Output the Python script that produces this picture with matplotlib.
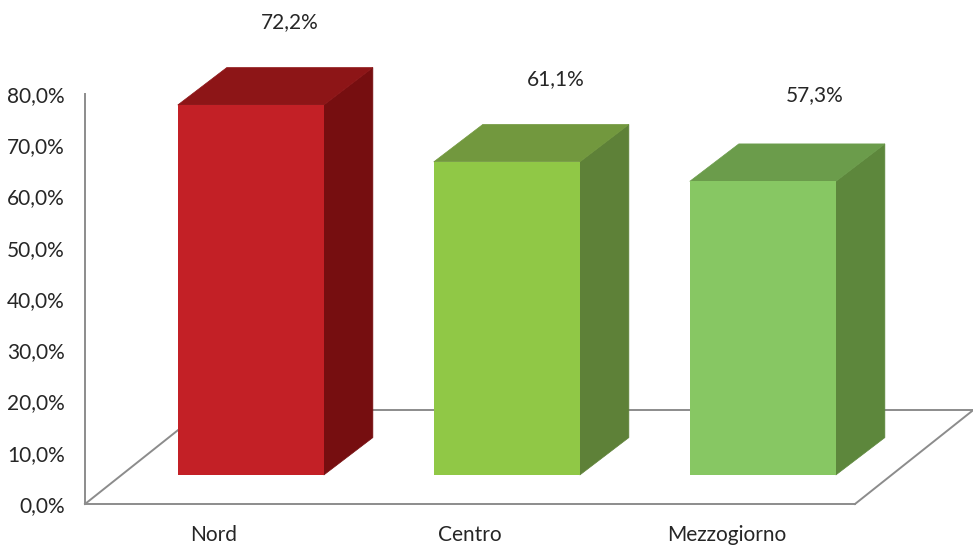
# -*- coding: utf-8 -*-
import matplotlib
matplotlib.use("Agg")
import matplotlib.pyplot as plt
from matplotlib.patches import Polygon

categories = ["Nord", "Centro", "Mezzogiorno"]
values = [72.2, 61.1, 57.3]
y_ticks = [0, 10, 20, 30, 40, 50, 60, 70, 80]

front_colors = ["#C32026", "#90C846", "#87C763"]
top_colors = ["#8D1517", "#72983E", "#6B9C4B"]
side_colors = ["#760E10", "#5E8138", "#5D873C"]

AXIS_COLOR = "#8C8C8C"
TEXT_COLOR = "#262626"

W, H = 973, 545
plt.rcParams["font.family"] = ["Lato", "DejaVu Sans"]

fig = plt.figure(figsize=(W / 100, H / 100), dpi=100)
ax = fig.add_axes([85 / W, (H - 504) / H, 770 / W, 410 / H])
ax.set_xlim(-0.5, 2.5)
ax.set_ylim(0, 80)

# 3d look, in data units
bar_w = 0.569
bar_step = 0.9974
bar_shift = 0.146
bar_base = 5.66
depth_x = 0.191
depth_y = 7.3
floor_dx = 0.46
floor_dy = 18.3


def fmt(v):
    return f"{v:.1f}%".replace(".", ",")


# floor
floor = dict(color=AXIS_COLOR, lw=1.4, clip_on=False, zorder=1)
ax.plot([-0.5, -0.5 + floor_dx], [0, floor_dy], **floor)
ax.plot([-0.5 + floor_dx, 2.5 + floor_dx], [floor_dy, floor_dy], **floor)
ax.plot([2.5, 2.5 + floor_dx], [0, floor_dy], **floor)

# bars
label_dx = [28, 35, 37]
label_dy = [33, 32.5, 35]
for i, v in enumerate(values):
    x0 = i * bar_step + bar_shift - bar_w / 2
    x1 = x0 + bar_w
    y0 = bar_base
    y1 = bar_base + v
    front = [(x0, y0), (x1, y0), (x1, y1), (x0, y1)]
    top = [(x0, y1), (x1, y1), (x1 + depth_x, y1 + depth_y), (x0 + depth_x, y1 + depth_y)]
    side = [(x1, y0), (x1 + depth_x, y0 + depth_y), (x1 + depth_x, y1 + depth_y), (x1, y1)]
    ax.add_patch(Polygon(side, fc=side_colors[i], ec=side_colors[i], lw=0.5, clip_on=False, zorder=3))
    ax.add_patch(Polygon(top, fc=top_colors[i], ec=top_colors[i], lw=0.5, clip_on=False, zorder=3))
    ax.add_patch(Polygon(front, fc=front_colors[i], ec="none", clip_on=False, zorder=4))
    ax.annotate(fmt(v), xy=(i * bar_step + bar_shift, y1 + depth_y), xytext=(label_dx[i], label_dy[i]),
                textcoords="offset points", ha="center", va="center",
                fontsize=15, color=TEXT_COLOR, annotation_clip=False)

ax.set_yticks(y_ticks)
ax.set_yticklabels([fmt(t) for t in y_ticks])
ax.set_xticks(range(len(categories)))
ax.set_xticklabels(categories)
ax.tick_params(axis="y", length=0, pad=14.5, labelsize=15, labelcolor=TEXT_COLOR)
ax.tick_params(axis="x", length=0, pad=15, labelsize=15, labelcolor=TEXT_COLOR)

for name in ["top", "right"]:
    ax.spines[name].set_visible(False)
for name in ["left", "bottom"]:
    ax.spines[name].set_color(AXIS_COLOR)
    ax.spines[name].set_linewidth(1.4)

fig.savefig("out.png", dpi=100, facecolor="white")
